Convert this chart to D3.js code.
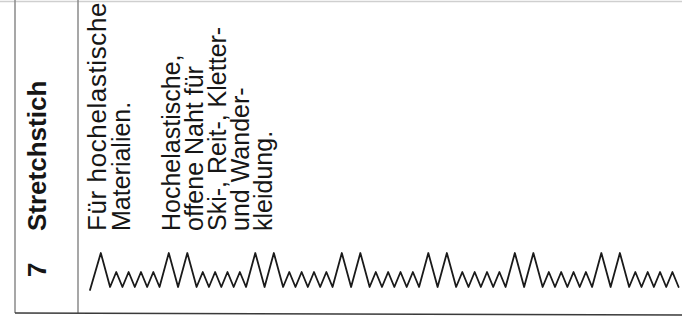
<!DOCTYPE html>
<html>
<head>
<meta charset="utf-8">
<script src="https://cdnjs.cloudflare.com/ajax/libs/d3/7.8.5/d3.min.js"></script>
<style>
  body { margin: 0; background: #fff; }
  svg { display: block; }
</style>
</head>
<body>
<svg id="chart" width="682" height="321"></svg>
<script>
// table row: number, stitch name, description lines
const rowNumber = "7"
const stitchName = "Stretchstich"
const useLines = ["Für hochelastische", "Materialien."]
const seamLines = ["Hochelastische,", "offene Naht für", "Ski-, Reit-, Kletter-", "und Wander-", "kleidung."]

// stitch vertices (x along seam, y = swing width)
const stitchX = [0, 1.75, 3.25,
  4.25, 5.25, 6.25, 7.25, 8.25, 9.25, 10.25, 11.25, 12.75, 14.25, 15.75, 17.25,
  18.25, 19.25, 20.25, 21.25, 22.25, 23.25, 24.25, 25.25, 26.75, 28.25, 29.75, 31.25,
  32.25, 33.25, 34.25, 35.25, 36.25, 37.25, 38.25, 39.25, 40.75, 42.25, 43.75, 45.25,
  46.25, 47.25, 48.25, 49.25, 50.25, 51.25, 52.25, 53.25, 54.75, 56.25, 57.75, 59.25,
  60.25, 61.25, 62.25, 63.25, 64.25, 65.25, 66.25, 67.25, 68.75, 70.25, 71.75, 73.25,
  74.25, 75.25, 76.25, 77.25, 78.25, 79.25, 80.25, 81.25, 82.75, 84.25, 85.75, 87.25,
  88.25, 89.25, 90.25, 91.25, 92.25, 93.25, 94.25, 95.25]
const stitchY = [-0.3, 3.4, 0,
  1.5, 0, 1.5, 0, 1.5, 0, 1.5, 0, 3.4, 0, 3.4, 0,
  1.5, 0, 1.5, 0, 1.5, 0, 1.5, 0, 3.4, 0, 3.4, 0,
  1.5, 0, 1.5, 0, 1.5, 0, 1.5, 0, 3.4, 0, 3.4, 0,
  1.5, 0, 1.5, 0, 1.5, 0, 1.5, 0, 3.4, 0, 3.4, 0,
  1.5, 0, 1.5, 0, 1.5, 0, 1.5, 0, 3.4, 0, 3.4, 0,
  1.5, 0, 1.5, 0, 1.5, 0, 1.5, 0, 3.4, 0, 3.4, 0,
  1.5, 0, 1.5, 0, 1.5, 0, 1.5, 0]

var svg = d3.select("#chart"),
    width = +svg.attr("width"),
    height = +svg.attr("height");

var left = 15, divider = 78, bottom = 313, textStart = 231;

// frame of the table
svg.append("line")
    .attr("x1", 0).attr("x2", width)
    .attr("y1", 1.5).attr("y2", 1.5)
    .attr("stroke", "#cfcfcf").attr("stroke-width", 1.5);
svg.append("line")
    .attr("x1", left).attr("x2", left)
    .attr("y1", 0).attr("y2", bottom)
    .attr("stroke", "#8a8a8a").attr("stroke-width", 1.5);
svg.append("line")
    .attr("x1", divider).attr("x2", divider)
    .attr("y1", 0).attr("y2", bottom)
    .attr("stroke", "#8a8a8a").attr("stroke-width", 1.5);
svg.append("line")
    .attr("x1", left).attr("x2", width)
    .attr("y1", bottom).attr("y2", bottom + 2)
    .attr("stroke", "#3a3a3a").attr("stroke-width", 1.6);

function rotText(x, y, txt, size, weight, spacing) {
  svg.append("text")
      .attr("x", x)
      .attr("y", y)
      .attr("transform", "rotate(-90," + x + "," + y + ")")
      .attr("font-family", "'Liberation Sans', Arial, sans-serif")
      .attr("font-size", size)
      .attr("font-weight", weight)
      .attr("letter-spacing", spacing || 0)
      .attr("fill", "#161616")
      .text(txt);
}

rotText(46, 277, rowNumber, 26, "bold")
rotText(46, textStart, stitchName, 26, "bold")

useLines.forEach((t, i) => rotText(106 + i * 23.5, textStart, t, i == 0 ? 26 : 25, "normal", i == 0 ? 0.6 : 0))
seamLines.forEach((t, i) => rotText(180 + i * 23, textStart, t, 25, "normal"))

// the stitch pattern
var pts = stitchX.map((d, i) => ({x: d, y: stitchY[i]}))
var x = d3.scaleLinear()
    .domain([0, 95.25])
    .range([90, 678.6]);
var y = d3.scaleLinear()
    .domain([0, 3.4])
    .range([287, 253]);
var line = d3.line()
    .x((d) => x(d.x))
    .y((d) => y(d.y));

svg.append("path")
    .datum(pts)
    .attr("fill", "none")
    .attr("stroke", "#1a1a1a")
    .attr("stroke-linejoin", "round")
    .attr("stroke-linecap", "round")
    .attr("stroke-width", 1.8)
    .attr("d", line);
</script>
</body>
</html>
